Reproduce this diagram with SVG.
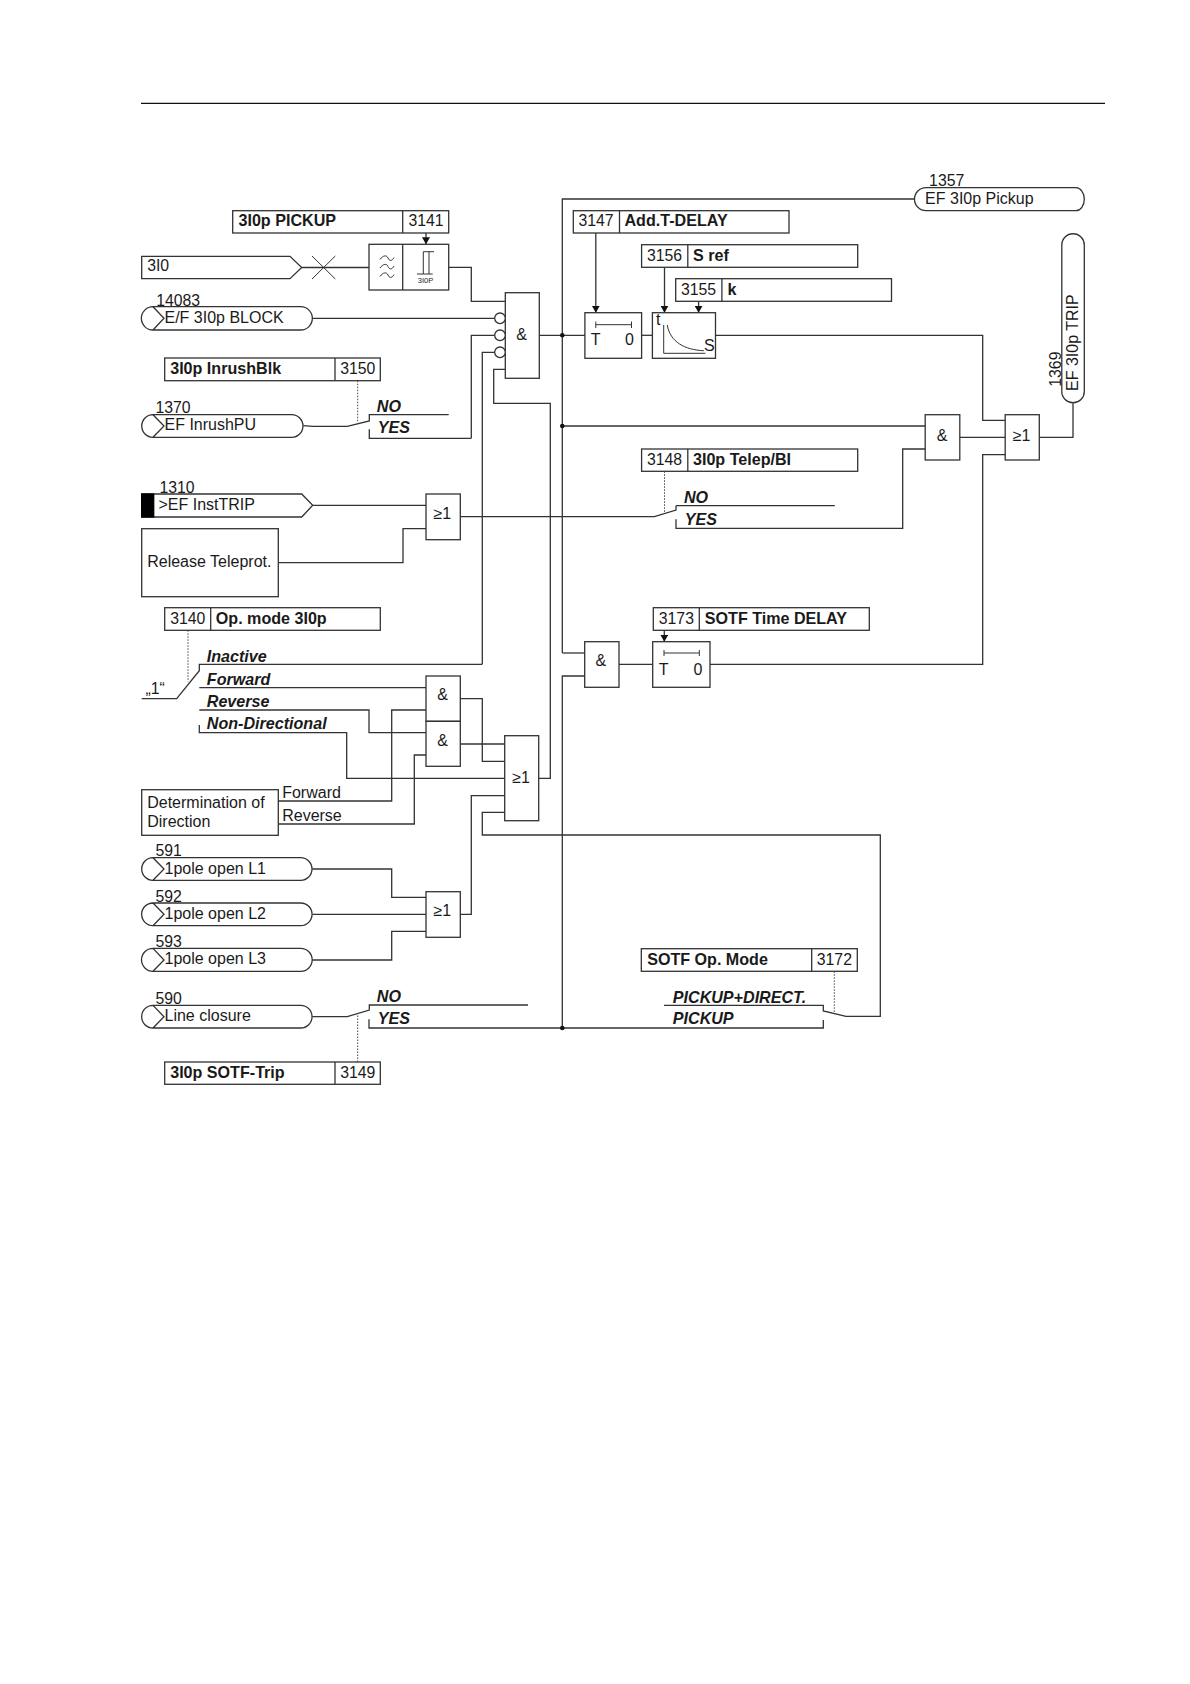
<svg xmlns="http://www.w3.org/2000/svg" width="1190" height="1684" viewBox="0 0 1190 1684">
<style>
text{font-family:"Liberation Sans",Arial,sans-serif;font-size:16px;fill:#1a1a1a}
text:not([transform]){transform:translate(-0.5px,-0.4px)}
.n{font-size:15.8px}
.b{font-weight:bold;font-size:16.1px}
text.i:not([transform]){font-weight:bold;font-style:italic;font-size:16.1px;transform:translate(-0.5px,0.5px)}
#direction text,#release text{transform:translate(-0.5px,0.6px)}
rect,path,line{fill:none;stroke:#333;stroke-width:1.3}
.w{fill:#fff;stroke:#333;stroke-width:1.3}
.d{stroke-dasharray:1.5 1.5;stroke:#444;stroke-width:1}
.t{stroke-width:1}
.f{fill:#111;stroke:none}
.k{fill:#111}
</style>
<defs>
<marker id="a" markerUnits="userSpaceOnUse" markerWidth="8" markerHeight="8" refX="7" refY="4" orient="auto"><path d="M0 0L7 4L0 8Z" class="f"/></marker>
</defs>
<line id="header-rule" x1="141" y1="103.3" x2="1105" y2="103.3" style="stroke:#111;stroke-width:1.2"/>
<g id="connectors">
<path d="M302 267.500H369"/>
<path class="t" d="M312 256L335.300 279M335.300 256L312 279"/>
<path d="M448.700 267.300H471.300V301.300H505.300"/>
<path d="M312.300 318.300H494.700"/>
<path d="M471.300 438.300V335.300H494.700"/>
<path d="M482.300 664.300V352.300H494.700"/>
<path d="M505.300 369.300H493.700V403.300H550.300V778.300H538.700"/>
<path d="M539.300 335.300H585"/>
<path d="M562.300 653V199H914.400"/>
<path d="M562.300 653H584.700"/>
<path d="M584.700 676H562.300V1028"/>
<path d="M562.300 426H925.200"/>
<path d="M641.600 335.300H652.400"/>
<path d="M715.500 335.300H982.700V420.300H1005.200"/>
<path d="M959.800 437.300H1005.200"/>
<path d="M1039.300 437.300H1073V403.300"/>
<path d="M1005.200 454.700H982.700V664.300H710"/>
<path d="M426 505.300H312.700"/>
<path d="M278.300 562.700H403V528.700H426"/>
<path d="M460.300 516.700H654.400L676 510V505.700M676 505.700H834.800M676 519.300V528.300H902.700V449H925.200"/>
<path d="M303.300 425.700L313 426.300H347.300L369.300 421V414.700H448.700M369.300 429.300V438.300H471.300"/>
<path d="M141.700 698.700H176.700L199.300 670.700V664.300H482.300"/>
<path d="M199.300 687.700H426"/>
<path d="M199.300 710H369V732.700H426"/>
<path d="M199.300 725V732.700H346.700V778.300H504.700"/>
<path d="M460.300 698.700H482.300V761.300H504.700"/>
<path d="M460.300 744H504.700"/>
<path d="M278.300 801H391.700V710H426"/>
<path d="M278.300 824H414.300V755H426"/>
<path d="M312.300 869H391.700V897.300H426"/>
<path d="M312.300 914.300H426"/>
<path d="M312.300 960H391.700V931.300H426"/>
<path d="M460.300 914.300H471.300V795.700H504.700"/>
<path d="M504.700 812.300H482.300V835H880.300V1016.300H846L823.300 1011V1005.300H664"/>
<path d="M312.300 1016.700H347.300L369.300 1010V1005H528"/>
<path d="M369 1019.300V1028H823.300V1020"/>
<path d="M619 664.300H652.700"/>
<line x1="426" y1="233" x2="426" y2="244.300" marker-end="url(#a)"/>
<line x1="595.800" y1="233" x2="595.800" y2="312.700" marker-end="url(#a)"/>
<line x1="664.500" y1="267.300" x2="664.500" y2="312.700" marker-end="url(#a)"/>
<line x1="698.600" y1="301.300" x2="698.600" y2="312.700" marker-end="url(#a)"/>
<line x1="664.300" y1="630.300" x2="664.300" y2="641.700" marker-end="url(#a)"/>
<line class="d" x1="357.700" y1="380.700" x2="357.700" y2="421.700"/>
<line class="d" x1="664.500" y1="471.300" x2="664.500" y2="513"/>
<line class="d" x1="188" y1="630.300" x2="188" y2="681.700"/>
<line class="d" x1="357.700" y1="1062" x2="357.700" y2="1013"/>
<line class="d" x1="834.300" y1="971.300" x2="834.300" y2="1013"/>
<circle class="k" cx="562.300" cy="335.300" r="2.300"/>
<circle class="k" cx="562.300" cy="426" r="2.300"/>
<circle class="k" cx="562.300" cy="1028" r="2.300"/>
</g>
<g id="n3I0">
<path d="M141.700 256.300H290L301.700 267.500L290 278.700H141.700Z"/>
<text class="n" x="147.700" y="271.700">3I0</text>
</g>
<g id="p3141">
<rect x="232.700" y="210.700" width="216" height="22.300"/><line x1="402.700" y1="210.700" x2="402.700" y2="233"/>
<text class="b" x="239" y="226.700">3I0p PICKUP</text><text class="n" x="409" y="226.700">3141</text>
</g>
<g id="filter">
<rect x="369" y="244.300" width="79.700" height="45.700"/><line x1="402.700" y1="244.300" x2="402.700" y2="290"/>
<path class="t" d="M380 259.500C383 255 387 255 388 258S392 261.500 394 257.500M380 268C383 263.500 387 263.500 388 266.500S392 270 394 266M380 276.500C383 272 387 272 388 275S392 278.500 394 274.500"/>
<path class="t" d="M417 274H432.700M423.300 274V251.700H434M429 274V251.700"/>
<text x="426" y="283.300" text-anchor="middle" style="font-size:7.500px">3I0P</text>
</g>
<g id="and1">
<rect x="505.300" y="292.700" width="34" height="85.600"/><text x="522" y="340" text-anchor="middle">&amp;</text>
<circle class="w" cx="500" cy="318.300" r="5.300"/>
<circle class="w" cx="500" cy="335.300" r="5.300"/>
<circle class="w" cx="500" cy="352.300" r="5.300"/>
</g>
<g id="i14083">
<path d="M153 306.700H300.700A11.600 11.600 0 0 1 300.700 330H153A11.600 11.600 0 0 1 153 306.700L164 318.300L153 330"/>
<text class="n" x="156.700" y="306.700">14083</text><text x="165" y="323.300">E/F 3I0p BLOCK</text>
</g>
<g id="p3150">
<rect x="164.700" y="358" width="215.600" height="22.700"/><line x1="335" y1="358" x2="335" y2="380.700"/>
<text class="b" x="170.700" y="374.300">3I0p InrushBlk</text><text class="n" x="340.700" y="374.300">3150</text>
</g>
<g id="i1370">
<path d="M153 414.700H291.700A11.300 11.300 0 0 1 291.700 437.300H153A11.300 11.300 0 0 1 153 414.700L164 426L153 437.300"/>
<text class="n" x="156" y="413.300">1370</text><text x="165" y="430">EF InrushPU</text>
</g>
<g id="sw-inrush"><text class="i" x="377.300" y="411">NO</text><text class="i" x="378.300" y="432.700">YES</text></g>
<g id="p3147">
<rect x="573.300" y="210.700" width="215.700" height="22.300"/><line x1="619.500" y1="210.700" x2="619.500" y2="233"/>
<text class="n" x="579" y="226.700">3147</text><text class="b" x="625" y="226.700">Add.T-DELAY</text>
</g>
<g id="p3156">
<rect x="641.600" y="244.700" width="216.100" height="22.600"/><line x1="687.800" y1="244.700" x2="687.800" y2="267.300"/>
<text class="n" x="647.500" y="261">3156</text><text class="b" x="693.500" y="261">S ref</text>
</g>
<g id="p3155">
<rect x="675.700" y="278.700" width="215.800" height="22.600"/><line x1="721.900" y1="278.700" x2="721.900" y2="301.300"/>
<text class="n" x="681.500" y="295">3155</text><text class="b" x="728" y="295">k</text>
</g>
<g id="timer1">
<rect x="584.900" y="312.700" width="56.700" height="45.600"/><path class="t" d="M595.800 324.700H631.500M595.800 321.500V328M631.500 321.500V328"/>
<text x="591.300" y="345">T</text><text x="625.500" y="345">0</text>
</g>
<g id="invtime">
<rect x="652.400" y="312.700" width="63.100" height="45.600"/>
<path class="t" d="M663.700 325V353.300H705.400M667.300 325C670 342 685 350 703.800 350.700"/>
<text x="656.400" y="325.700">t</text><text x="704.600" y="351">S</text>
</g>
<g id="o1357">
<path d="M926 187.700H1076A8.300 11.500 0 0 1 1076 210.700H926A11.500 11.500 0 0 1 926 187.700Z"/>
<text class="n" x="929.600" y="186.700">1357</text><text x="925.600" y="204">EF 3I0p Pickup</text>
</g>
<g id="o1369">
<path d="M1061.800 245A11.250 11.250 0 0 1 1084.300 245V391.500A11.250 11.250 0 0 1 1061.800 391.500Z"/>
<text transform="translate(1077.500 391) rotate(-90)">EF 3I0p TRIP</text>
<text class="n" transform="translate(1060.500 386.700) rotate(-90)">1369</text>
</g>
<g id="and2"><rect x="925.200" y="414.700" width="34.600" height="45.300"/><text x="942.500" y="441" text-anchor="middle">&amp;</text></g>
<g id="or1"><rect x="1005.200" y="414.700" width="34.100" height="45.300"/><text x="1022" y="441" text-anchor="middle">≥1</text></g>
<g id="p3148">
<rect x="641.600" y="449" width="216.100" height="22.300"/><line x1="687.800" y1="449" x2="687.800" y2="471.300"/>
<text class="n" x="647.500" y="465">3148</text><text class="b" x="693.500" y="465">3I0p Telep/BI</text>
</g>
<g id="sw-telep"><text class="i" x="684.500" y="502.300">NO</text><text class="i" x="685.300" y="524">YES</text></g>
<g id="i1310">
<path d="M141.700 494H301.700L312.700 505.300L301.700 517H141.700Z"/><rect x="141.700" y="494" width="12" height="23" style="fill:#000;stroke:#000"/>
<text class="n" x="160" y="493.300">1310</text><text x="159" y="510">&gt;EF InstTRIP</text>
</g>
<g id="release"><rect x="141.700" y="528.700" width="136.600" height="68"/><text x="147.700" y="566.700">Release Teleprot.</text></g>
<g id="or2"><rect x="426" y="494" width="34.300" height="45.700"/><text x="434" y="519">≥1</text></g>
<g id="p3140">
<rect x="164.700" y="607.700" width="215.600" height="22.600"/><line x1="210.700" y1="607.700" x2="210.700" y2="630.300"/>
<text class="n" x="170.700" y="624">3140</text><text class="b" x="216.300" y="624">Op. mode 3I0p</text>
</g>
<g id="sw-mode">
<text class="n" x="146" y="694.300">„1“</text>
<text class="i" x="207.300" y="661">Inactive</text><text class="i" x="207.300" y="684">Forward</text><text class="i" x="207.300" y="706.700">Reverse</text><text class="i" x="207.300" y="728.700">Non-Directional</text>
</g>
<g id="and3"><rect x="426" y="676" width="34.300" height="45.300"/><text x="437.700" y="700.700">&amp;</text></g>
<g id="and4"><rect x="426" y="721.300" width="34.300" height="45"/><text x="437.700" y="746">&amp;</text></g>
<g id="or3"><rect x="504.700" y="735.700" width="34" height="85"/><text x="512.700" y="783.300">≥1</text></g>
<g id="direction">
<rect x="141.700" y="789.700" width="136.600" height="45.600"/><text x="147.700" y="807.300">Determination of</text><text x="147.700" y="826.700">Direction</text>
<text x="282.700" y="797.300">Forward</text><text x="282.700" y="820">Reverse</text>
</g>
<g id="i591">
<path d="M153 857.700H300.700A11.300 11.300 0 0 1 300.700 880.300H153A11.300 11.300 0 0 1 153 857.700L164 869L153 880.300"/>
<text class="n" x="156" y="856.700">591</text><text x="165" y="874">1pole open L1</text>
</g>
<g id="i592">
<path d="M153 903H300.700A11.300 11.300 0 0 1 300.700 925.700H153A11.300 11.300 0 0 1 153 903L164 914.300L153 925.700"/>
<text class="n" x="156" y="902">592</text><text x="165" y="919.300">1pole open L2</text>
</g>
<g id="i593">
<path d="M153 948.300H300.700A11.500 11.500 0 0 1 300.700 971.300H153A11.500 11.500 0 0 1 153 948.300L164 960L153 971.300"/>
<text class="n" x="156" y="947.300">593</text><text x="165" y="964.700">1pole open L3</text>
</g>
<g id="or4"><rect x="426" y="891.700" width="34.300" height="45.600"/><text x="434" y="916.700">≥1</text></g>
<g id="i590">
<path d="M153 1005.300H300.700A11.300 11.300 0 0 1 300.700 1028H153A11.300 11.300 0 0 1 153 1005.300L164 1016.700L153 1028"/>
<text class="n" x="156" y="1004">590</text><text x="165" y="1021.300">Line closure</text>
</g>
<g id="sw-sotf"><text class="i" x="377.300" y="1001.300">NO</text><text class="i" x="378.300" y="1023.300">YES</text></g>
<g id="p3149">
<rect x="164.700" y="1062" width="215.600" height="22.300"/><line x1="335" y1="1062" x2="335" y2="1084.300"/>
<text class="b" x="170.700" y="1078.300">3I0p SOTF-Trip</text><text class="n" x="340.700" y="1078.300">3149</text>
</g>
<g id="and5"><rect x="584.700" y="641.700" width="34.300" height="45.600"/><text x="596" y="666.500">&amp;</text></g>
<g id="p3173">
<rect x="653.300" y="607.700" width="216" height="22.600"/><line x1="699.300" y1="607.700" x2="699.300" y2="630.300"/>
<text class="n" x="659.300" y="624">3173</text><text class="b" x="705.300" y="624">SOTF Time DELAY</text>
</g>
<g id="timer2">
<rect x="652.700" y="641.700" width="57.300" height="45.600"/><path class="t" d="M664 653H699.300M664 650V656M699.300 650V656"/>
<text x="659.300" y="675">T</text><text x="694" y="675">0</text>
</g>
<g id="p3172">
<rect x="641.300" y="948.700" width="216" height="22.600"/><line x1="811.700" y1="948.700" x2="811.700" y2="971.300"/>
<text class="b" x="647.700" y="965">SOTF Op. Mode</text><text class="n" x="817.300" y="965">3172</text>
</g>
<g id="sw-pickup"><text class="i" x="673.300" y="1002">PICKUP+DIRECT.</text><text class="i" x="673.300" y="1023.300">PICKUP</text></g>
</svg>
